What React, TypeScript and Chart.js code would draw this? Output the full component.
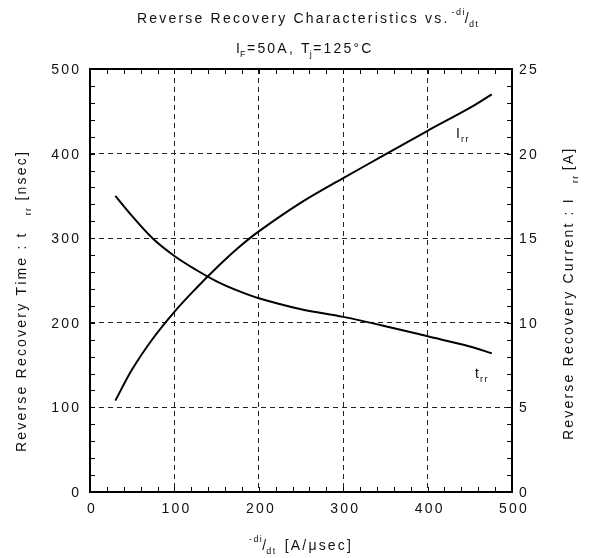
import React, { useEffect, useRef } from "react";
import { Chart, registerables } from "chart.js";

Chart.register(...registerables);

// ---- data ----
const trrX = [30, 50, 75, 100, 125, 150, 175, 200, 250, 300, 350, 400, 450, 476];
const trrY = [350, 326, 299, 279, 263, 249, 238, 229, 216, 207, 196, 184, 172, 164];
const irrX = [30, 50, 75, 100, 125, 150, 175, 200, 250, 300, 350, 400, 450, 476];
const irrY = [5.4, 7.25, 9.1, 10.65, 12.0, 13.25, 14.4, 15.4, 17.1, 18.55, 19.95, 21.35, 22.7, 23.5];
const xTicks = [0, 100, 200, 300, 400, 500];
const yTicks = [0, 100, 200, 300, 400, 500];
const y1Ticks = [0, 5, 10, 15, 20, 25];

const FONT = "'Liberation Sans', Arial, sans-serif";
const BASE = 14;
const LS = 2.2;

type Seg = { t: string; size?: number; dy?: number; gap?: number };

function segWidth(ctx: CanvasRenderingContext2D, s: Seg) {
  const size = s.size ?? BASE;
  ctx.font = `${size}px ${FONT}`;
  let w = 0;
  for (const ch of s.t) w += ctx.measureText(ch).width + LS * (size / BASE);
  return w;
}

function richWidth(ctx: CanvasRenderingContext2D, segs: Seg[]) {
  let w = 0;
  segs.forEach((s) => (w += (s.gap ?? 0) + segWidth(ctx, s)));
  return w;
}

function drawRich(ctx: CanvasRenderingContext2D, segs: Seg[], x: number, y: number) {
  let cx = x;
  for (const s of segs) {
    cx += s.gap ?? 0;
    const size = s.size ?? BASE;
    ctx.font = `${size}px ${FONT}`;
    for (const ch of s.t) {
      ctx.fillText(ch, cx, y + (s.dy ?? 0));
      cx += ctx.measureText(ch).width + LS * (size / BASE);
    }
  }
}

function drawText(ctx: CanvasRenderingContext2D, txt: string, x: number, y: number, align: "left" | "center" | "right") {
  const segs = [{ t: txt }];
  const w = richWidth(ctx, segs) - LS;
  let sx = x;
  if (align === "center") sx = x - w / 2;
  if (align === "right") sx = x - w;
  drawRich(ctx, segs, sx, y);
}

const decor = {
  id: "decor",
  afterDraw(chart: any) {
    const ctx: CanvasRenderingContext2D = chart.ctx;
    const { left, right, top, bottom } = chart.chartArea;
    const xs = chart.scales.x;
    const ys = chart.scales.y;
    const y1 = chart.scales.y1;
    ctx.save();
    ctx.strokeStyle = "#000";
    ctx.fillStyle = "#000";
    ctx.textAlign = "left";
    ctx.textBaseline = "alphabetic";
    // minor ticks (inside)
    ctx.lineWidth = 1;
    ctx.beginPath();
    for (let v = 20; v < 500; v += 20) {
      const px = Math.round(xs.getPixelForValue(v)) + 0.5;
      ctx.moveTo(px, bottom);
      ctx.lineTo(px, bottom - 5);
      ctx.moveTo(px, top);
      ctx.lineTo(px, top + 5);
      const py = Math.round(ys.getPixelForValue(v)) + 0.5;
      ctx.moveTo(left, py);
      ctx.lineTo(left + 5, py);
    }
    for (let v = 1; v < 25; v += 1) {
      const py = Math.round(y1.getPixelForValue(v)) + 0.5;
      ctx.moveTo(right, py);
      ctx.lineTo(right - 5, py);
    }
    ctx.stroke();
    // frame
    ctx.lineWidth = 2;
    ctx.strokeRect(left, top, right - left, bottom - top);

    // tick labels
    ctx.fillStyle = "#111";
    xTicks.forEach((v) => drawText(ctx, String(v), xs.getPixelForValue(v) + 1, 513, "center"));
    yTicks.forEach((v) => drawText(ctx, String(v), 79, ys.getPixelForValue(v) + 5, "right"));
    y1Ticks.forEach((v) => drawText(ctx, String(v), 519, y1.getPixelForValue(v) + 5, "left"));

    // title
    drawRich(
      ctx,
      [
        { t: "Reverse Recovery Characteristics vs." },
        { t: "-di", size: 9, dy: -8, gap: 2 },
        { t: "/", gap: -1 },
        { t: "dt", size: 9, dy: 4, gap: -2 },
      ],
      137,
      23
    );
    // subtitle
    drawRich(
      ctx,
      [
        { t: "I" },
        { t: "F", size: 9, dy: 4, gap: -2 },
        { t: "=50A, T", gap: 0 },
        { t: "j", size: 9, dy: 4, gap: -2 },
        { t: "=125°C", gap: 0 },
      ],
      236,
      53
    );

    // x axis title
    drawRich(
      ctx,
      [
        { t: "-di", size: 9, dy: -8 },
        { t: "/", gap: -1 },
        { t: "dt", size: 9, dy: 4, gap: -2 },
        { t: "[A/μsec]", gap: 8 },
      ],
      249,
      550
    );

    // left axis title (rotated)
    ctx.save();
    ctx.translate(26, 452);
    ctx.rotate(-Math.PI / 2);
    drawRich(
      ctx,
      [
        { t: "Reverse Recovery Time : t" },
        { t: "rr", size: 9, dy: 5, gap: 16 },
        { t: "[nsec]", gap: 6 },
      ],
      0,
      0
    );
    ctx.restore();

    // right axis title (rotated)
    ctx.save();
    ctx.translate(573, 440);
    ctx.rotate(-Math.PI / 2);
    drawRich(
      ctx,
      [
        { t: "Reverse Recovery Current : I" },
        { t: "rr", size: 9, dy: 5, gap: 14 },
        { t: "[A]", gap: 4 },
      ],
      0,
      0
    );
    ctx.restore();

    // curve labels
    drawRich(ctx, [{ t: "I" }, { t: "rr", size: 9, dy: 4, gap: -1 }], 456, 138);
    drawRich(ctx, [{ t: "t" }, { t: "rr", size: 9, dy: 4, gap: -1 }], 475, 378);

    ctx.restore();
  },
};

export default function App() {
  const ref = useRef<HTMLCanvasElement | null>(null);
  useEffect(() => {
    document.body.style.margin = "0";
    const canvas = ref.current!;
    const chart = new Chart(canvas, {
      type: "line",
      data: {
        datasets: [
          {
            label: "trr",
            data: trrX.map((x, i) => ({ x, y: trrY[i] })),
            yAxisID: "y",
            borderColor: "#000",
            borderWidth: 2,
            pointRadius: 0,
            tension: 0.35,
            fill: false,
          },
          {
            label: "Irr",
            data: irrX.map((x, i) => ({ x, y: irrY[i] })),
            yAxisID: "y1",
            borderColor: "#000",
            borderWidth: 2,
            pointRadius: 0,
            tension: 0.35,
            fill: false,
          },
        ],
      },
      options: {
        responsive: false,
        animation: false,
        layout: { padding: { left: 90, right: 80, top: 69, bottom: 66 } },
        plugins: { legend: { display: false }, tooltip: { enabled: false }, title: { display: false } },
        scales: {
          x: {
            type: "linear",
            min: 0,
            max: 500,
            ticks: { stepSize: 100, display: false },
            grid: { drawTicks: false, color: "#222", lineWidth: 1 },
            border: { display: false, dash: [5, 4] },
          },
          y: {
            type: "linear",
            position: "left",
            min: 0,
            max: 500,
            ticks: { stepSize: 100, display: false },
            grid: { drawTicks: false, color: "#222", lineWidth: 1 },
            border: { display: false, dash: [5, 4] },
          },
          y1: {
            type: "linear",
            position: "right",
            min: 0,
            max: 25,
            ticks: { stepSize: 5, display: false },
            grid: { display: false, drawTicks: false },
            border: { display: false },
          },
        },
      },
      plugins: [decor],
    } as any);
    return () => chart.destroy();
  }, []);
  return <canvas ref={ref} width={592} height={558} style={{ display: "block" }} />;
}
